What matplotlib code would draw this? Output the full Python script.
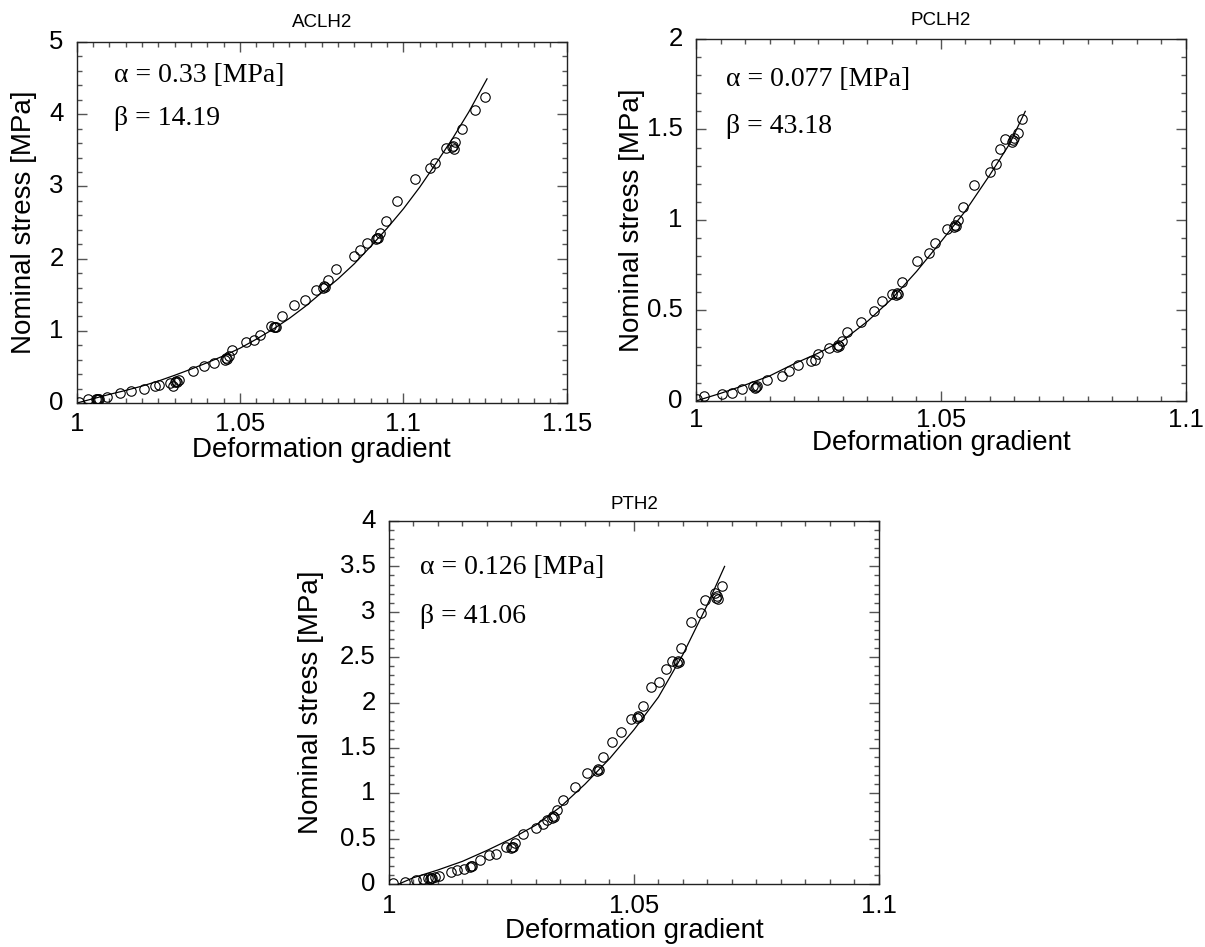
"""
Stress vs deformation gradient for three samples (ACLH2, PCLH2, PTH2),
measured points with the fitted curve. Writes out.png.
"""

import matplotlib
matplotlib.use("Agg")
import matplotlib.pyplot as plt
from matplotlib.ticker import MultipleLocator

# ---- ACLH2 ---------------------------------------------------------------
A_X = [1.0008, 1.0034, 1.0058, 1.0061, 1.0064, 1.0069, 1.0094, 1.0132, 1.0167, 1.0206,
       1.0241, 1.0253, 1.0284, 1.0296, 1.0301, 1.0304, 1.0308, 1.0314, 1.0355, 1.0390,
       1.0420, 1.0454, 1.0457, 1.0460, 1.0467, 1.0475, 1.0519, 1.0543, 1.0560, 1.0596,
       1.0604, 1.0607, 1.0610, 1.0628, 1.0664, 1.0698, 1.0731, 1.0755, 1.0758, 1.0761,
       1.0770, 1.0795, 1.0848, 1.0866, 1.0890, 1.0915, 1.0918, 1.0921, 1.0927, 1.0946,
       1.0980, 1.1036, 1.1080, 1.1098, 1.1130, 1.1150, 1.1153, 1.1156, 1.1159, 1.1179,
       1.1218, 1.1251]
A_Y = [0.01, 0.05, 0.05, 0.055, 0.05, 0.06, 0.08, 0.14, 0.16, 0.19,
       0.23, 0.25, 0.28, 0.23, 0.29, 0.30, 0.29, 0.32, 0.44, 0.51,
       0.55, 0.60, 0.62, 0.61, 0.645, 0.74, 0.85, 0.875, 0.945, 1.07,
       1.05, 1.06, 1.05, 1.20, 1.36, 1.43, 1.56, 1.60, 1.62, 1.61,
       1.70, 1.85, 2.04, 2.12, 2.21, 2.27, 2.29, 2.28, 2.36, 2.525,
       2.80, 3.11, 3.25, 3.33, 3.53, 3.54, 3.56, 3.52, 3.62, 3.80,
       4.06, 4.24]
A_FIT_X = [1.000, 1.005, 1.010, 1.015, 1.020, 1.025, 1.030, 1.035, 1.040, 1.045, 1.050,
           1.055, 1.060, 1.065, 1.070, 1.075, 1.080, 1.085, 1.090, 1.095, 1.100,
           1.105, 1.110, 1.115, 1.120, 1.1256]
A_FIT_Y = [0.00, 0.06, 0.12, 0.175, 0.235, 0.305, 0.385, 0.47, 0.56, 0.655, 0.76,
           0.885, 1.02, 1.17, 1.34, 1.53, 1.72, 1.93, 2.17, 2.42, 2.69,
           2.99, 3.32, 3.66, 4.03, 4.49]

# ---- PCLH2 ---------------------------------------------------------------
B_X = [1.0002, 1.0017, 1.0053, 1.0074, 1.0094, 1.0116, 1.0120, 1.0122, 1.0124, 1.0144,
       1.0175, 1.0189, 1.0208, 1.0234, 1.0242, 1.0250, 1.0272, 1.0288, 1.0290, 1.0292,
       1.0298, 1.0309, 1.0337, 1.0363, 1.0380, 1.0400, 1.0408, 1.0410, 1.0412, 1.0421,
       1.0451, 1.0475, 1.0487, 1.0513, 1.0526, 1.0528, 1.0530, 1.0534, 1.0544, 1.0567,
       1.0601, 1.0613, 1.0621, 1.0631, 1.0645, 1.0647, 1.0649, 1.0657, 1.0665]
B_Y = [0.01, 0.03, 0.04, 0.045, 0.065, 0.08, 0.07, 0.075, 0.08, 0.115,
       0.14, 0.165, 0.20, 0.22, 0.225, 0.26, 0.295, 0.30, 0.31, 0.305,
       0.33, 0.38, 0.435, 0.495, 0.55, 0.59, 0.585, 0.595, 0.59, 0.655,
       0.775, 0.82, 0.87, 0.95, 0.96, 0.97, 0.965, 1.00, 1.07, 1.195,
       1.265, 1.31, 1.39, 1.445, 1.43, 1.44, 1.45, 1.48, 1.56]
B_FIT_X = [1.000, 1.005, 1.010, 1.015, 1.020, 1.025, 1.030, 1.035, 1.040, 1.045,
           1.050, 1.055, 1.060, 1.064, 1.0672]
B_FIT_Y = [0.000, 0.042, 0.088, 0.138, 0.205, 0.265, 0.335, 0.44, 0.565, 0.715,
           0.88, 1.05, 1.25, 1.42, 1.60]

# ---- PTH2 ----------------------------------------------------------------
C_X = [1.0008, 1.0032, 1.0056, 1.0069, 1.0079, 1.0083, 1.0085, 1.0087, 1.0093, 1.0103,
       1.0127, 1.0139, 1.0153, 1.0166, 1.0168, 1.0170, 1.0185, 1.0204, 1.0219, 1.0238,
       1.0250, 1.0252, 1.0254, 1.0258, 1.0274, 1.0300, 1.0315, 1.0323, 1.0333, 1.0335,
       1.0337, 1.0343, 1.0355, 1.0379, 1.0405, 1.0424, 1.0426, 1.0428, 1.0437, 1.0456,
       1.0474, 1.0494, 1.0506, 1.0508, 1.0510, 1.0518, 1.0534, 1.0552, 1.0565, 1.0577,
       1.0587, 1.0589, 1.0591, 1.0597, 1.0617, 1.0637, 1.0645, 1.0665, 1.0667, 1.0669,
       1.0671, 1.0679]
C_Y = [0.01, 0.02, 0.045, 0.055, 0.066, 0.06, 0.066, 0.07, 0.08, 0.09,
       0.13, 0.15, 0.17, 0.19, 0.20, 0.195, 0.27, 0.32, 0.33, 0.41,
       0.40, 0.41, 0.405, 0.45, 0.55, 0.62, 0.66, 0.71, 0.73, 0.75,
       0.74, 0.82, 0.93, 1.07, 1.22, 1.25, 1.27, 1.26, 1.40, 1.56,
       1.67, 1.82, 1.83, 1.85, 1.84, 1.96, 2.17, 2.23, 2.37, 2.46,
       2.44, 2.46, 2.45, 2.60, 2.89, 2.99, 3.13, 3.21, 3.15, 3.17,
       3.14, 3.28]
C_FIT_X = [1.002, 1.005, 1.010, 1.015, 1.020, 1.025, 1.030, 1.035, 1.040, 1.045,
           1.050, 1.055, 1.060, 1.065, 1.0685]
C_FIT_Y = [0.00, 0.07, 0.155, 0.25, 0.37, 0.50, 0.65, 0.85, 1.10, 1.38,
           1.70, 2.06, 2.53, 3.08, 3.50]

# ---- ticks and fitted parameters ----------------------------------------
A_XTICKS = [1.0, 1.05, 1.1, 1.15]; A_XLABELS = ["1", "1.05", "1.1", "1.15"]
A_YTICKS = [0, 1, 2, 3, 4, 5];     A_YLABELS = ["0", "1", "2", "3", "4", "5"]
B_XTICKS = [1.0, 1.05, 1.1];       B_XLABELS = ["1", "1.05", "1.1"]
B_YTICKS = [0, 0.5, 1, 1.5, 2];    B_YLABELS = ["0", "0.5", "1", "1.5", "2"]
C_XTICKS = [1.0, 1.05, 1.1];       C_XLABELS = ["1", "1.05", "1.1"]
C_YTICKS = [0, 0.5, 1, 1.5, 2, 2.5, 3, 3.5, 4]
C_YLABELS = ["0", "0.5", "1", "1.5", "2", "2.5", "3", "3.5", "4"]

TITLES = ["ACLH2", "PCLH2", "PTH2"]
ALPHAS = ["0.33", "0.077", "0.126"]
BETAS = ["14.19", "43.18", "41.06"]

SANS = "Liberation Sans"
SERIF = "Liberation Serif"
TICK = "#555555"

fig = plt.figure(figsize=(12.05, 9.47), dpi=100)
axA = fig.add_axes([0.0637, 0.5744, 0.4066, 0.3812])
axB = fig.add_axes([0.5776, 0.5766, 0.4066, 0.3823])
axC = fig.add_axes([0.3228, 0.0665, 0.4066, 0.3833])


def panel(a, x, y, fx, fy, title, alpha, beta, xticks, xlabels, yticks, ylabels,
          yminor, txt_x, txt_ya, txt_yb, ylab_x, xlab_y, xpad, tpad):
    a.plot(fx, fy, color="black", lw=0.9, zorder=2)
    a.plot(x, y, "o", mfc="none", mec="black", ms=6.8, mew=0.8, zorder=3)
    a.set_xlim(xticks[0], xticks[-1]); a.set_ylim(yticks[0], yticks[-1])
    a.set_xticks(xticks); a.set_xticklabels(xlabels)
    a.set_yticks(yticks); a.set_yticklabels(ylabels, va="center")
    a.xaxis.set_minor_locator(MultipleLocator(0.005))
    a.yaxis.set_minor_locator(MultipleLocator(yminor))
    a.tick_params(which="both", direction="in", top=True, right=True,
                  color=TICK, width=1.0)
    a.tick_params(which="major", length=7)
    a.tick_params(which="minor", length=3.5)
    a.tick_params(axis="x", labelsize=18.5, pad=xpad)
    a.tick_params(axis="y", labelsize=18.5, pad=9.5)
    for lab in a.get_xticklabels() + a.get_yticklabels():
        lab.set_fontfamily(SANS)
    for s in a.spines.values():
        s.set_linewidth(1.0); s.set_color("#222222")
    a.set_title(title, fontsize=13.5, family=SANS, pad=tpad)
    a.set_xlabel("Deformation gradient", fontsize=20, family=SANS)
    a.set_ylabel("Nominal stress [MPa]", fontsize=20, family=SANS)
    a.xaxis.set_label_coords(0.5, xlab_y)
    a.yaxis.set_label_coords(ylab_x, 0.5)
    a.text(txt_x, txt_ya, "\u03b1 = " + alpha + " [MPa]", transform=a.transAxes,
           fontsize=20, family=SERIF, va="center", ha="left")
    a.text(txt_x, txt_yb, "\u03b2 = " + beta, transform=a.transAxes,
           fontsize=20, family=SERIF, va="center", ha="left")


panel(axA, A_X, A_Y, A_FIT_X, A_FIT_Y, TITLES[0], ALPHAS[0], BETAS[0],
      A_XTICKS, A_XLABELS, A_YTICKS, A_YLABELS, 0.2,
      0.076, 0.908, 0.788, -0.081, -0.094, 6.5, 10.8)
panel(axB, B_X, B_Y, B_FIT_X, B_FIT_Y, TITLES[1], ALPHAS[1], BETAS[1],
      B_XTICKS, B_XLABELS, B_YTICKS, B_YLABELS, 0.1,
      0.061, 0.887, 0.758, -0.105, -0.080, 5.0, 10.0)
panel(axC, C_X, C_Y, C_FIT_X, C_FIT_Y, TITLES[2], ALPHAS[2], BETAS[2],
      C_XTICKS, C_XLABELS, C_YTICKS, C_YLABELS, 0.1,
      0.064, 0.871, 0.738, -0.133, -0.094, 7.0, 8.6)

fig.savefig("out.png", dpi=100)
print("wrote out.png")
